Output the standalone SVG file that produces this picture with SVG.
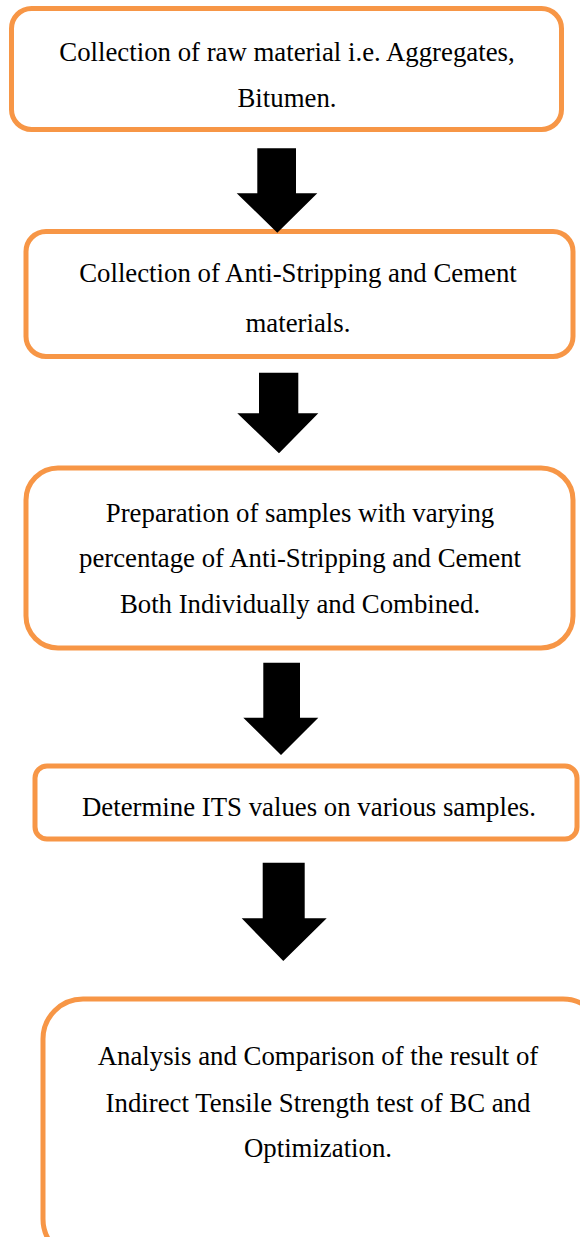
<svg xmlns="http://www.w3.org/2000/svg" width="580" height="1237" viewBox="0 0 580 1237">
<style>
.box{fill:#fff;stroke:#F79646;stroke-width:5}
.t{font-family:'Liberation Serif','Times New Roman','DejaVu Serif',serif;font-size:26.8px;fill:#000;text-anchor:middle}
.arr{fill:#000}
</style>
<rect width="580" height="1237" fill="#fff"/>
<g id="n1"><rect class="box" x="11.5" y="8.5" width="550" height="121" rx="20"/>
<text class="t" x="287" y="61">Collection of raw material i.e. Aggregates,</text>
<text class="t" x="287" y="107">Bitumen.</text></g>
<g id="n2"><rect class="box" x="26" y="231.5" width="547" height="125" rx="20"/>
<text class="t" x="298" y="282">Collection of Anti-Stripping and Cement</text>
<text class="t" x="298" y="332">materials.</text></g>
<g id="n3"><rect class="box" x="26" y="468" width="547" height="180" rx="32"/>
<text class="t" x="300" y="522">Preparation of samples with varying</text>
<text class="t" x="300" y="567">percentage of Anti-Stripping and Cement</text>
<text class="t" x="300" y="613">Both Individually and Combined.</text></g>
<g id="n4"><rect class="box" x="35" y="766" width="542" height="73" rx="12"/>
<text class="t" x="309" y="816">Determine ITS values on various samples.</text></g>
<g id="n5"><rect class="box" x="43" y="999" width="560" height="260" rx="40"/>
<text class="t" x="318" y="1065">Analysis and Comparison of the result of</text>
<text class="t" x="318" y="1112">Indirect Tensile Strength test of BC and</text>
<text class="t" x="318" y="1157">Optimization.</text></g>
<g id="connectors">
<polygon class="arr" points="257.3,148.3 296,148.3 296,193.3 317.3,193.3 277.3,232.7 236.7,193.3 257.3,193.3"/>
<polygon class="arr" points="259,372.7 298.3,372.7 298.3,413.3 318.3,413.3 279,453.3 237.3,413.3 259,413.3"/>
<polygon class="arr" points="263.3,662.7 300,662.7 300,717.7 318.3,717.7 281,755 243.3,717.7 263.3,717.7"/>
<polygon class="arr" points="262.7,862.7 304.7,862.7 304.7,918.3 326.7,918.3 283.3,961 241.7,918.3 262.7,918.3"/>
</g>
</svg>
